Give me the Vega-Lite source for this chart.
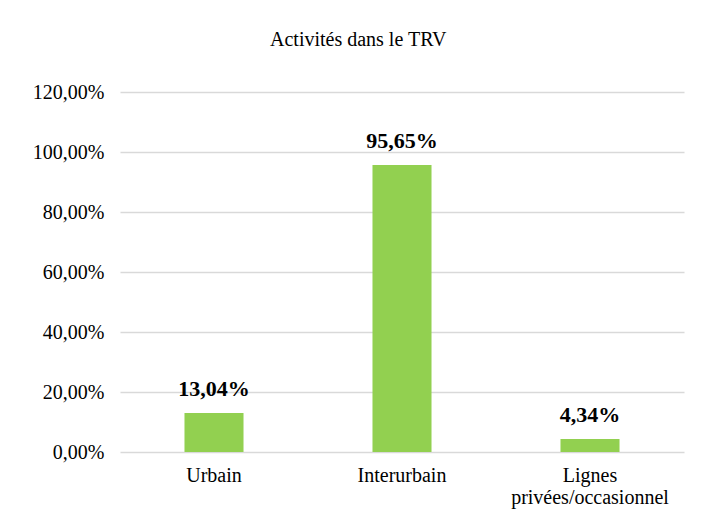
{
  "$schema": "https://vega.github.io/schema/vega-lite/v6.json",
  "width": 564,
  "height": 360,
  "autosize": {"type": "none"},
  "padding": {"left": 120, "top": 92, "right": 22, "bottom": 69},
  "background": "white",
  "config": {
    "font": "Times New Roman",
    "view": {"stroke": null}
  },
  "title": {
    "text": "Activités dans le TRV",
    "font": "Times New Roman",
    "fontSize": 20,
    "fontWeight": "normal",
    "color": "#000000",
    "anchor": "middle",
    "frame": "bounds",
    "offset": 32
  },
  "data": {
    "values": [
      {"category": "Urbain", "value": 0.1304},
      {"category": "Interurbain", "value": 0.9565},
      {"category": "Lignes privées/occasionnel", "value": 0.0434}
    ]
  },
  "encoding": {
    "x": {
      "field": "category",
      "type": "nominal",
      "sort": null,
      "scale": {"paddingInner": 0.686, "paddingOuter": 0.343},
      "axis": {
        "title": null,
        "labelAngle": 0,
        "labelFont": "Times New Roman",
        "labelFontSize": 20,
        "labelColor": "#000000",
        "labelPadding": 13,
        "labelLineHeight": 22,
        "labelExpr": "split(datum.label, ' ')",
        "domain": false,
        "ticks": false
      }
    },
    "y": {
      "field": "value",
      "type": "quantitative",
      "scale": {"domain": [0, 1.2], "nice": false},
      "axis": {
        "title": null,
        "values": [0, 0.2, 0.4, 0.6, 0.8, 1.0, 1.2],
        "labelExpr": "replace(format(datum.value * 100, '.2f'), '.', ',') + '%'",
        "labelFont": "Times New Roman",
        "labelFontSize": 20,
        "labelColor": "#000000",
        "labelPadding": 16,
        "domain": false,
        "ticks": false,
        "grid": true,
        "gridColor": "#d9d9d9",
        "gridWidth": 1.5
      }
    }
  },
  "layer": [
    {
      "mark": {"type": "bar", "color": "#92d050"}
    },
    {
      "mark": {
        "type": "text",
        "baseline": "alphabetic",
        "dy": -17,
        "font": "Times New Roman",
        "fontSize": 22,
        "fontWeight": "bold",
        "color": "#000000"
      },
      "encoding": {
        "text": {"field": "label"}
      },
      "transform": [
        {"calculate": "replace(format(datum.value * 100, '.2f'), '.', ',') + '%'", "as": "label"}
      ]
    }
  ]
}
